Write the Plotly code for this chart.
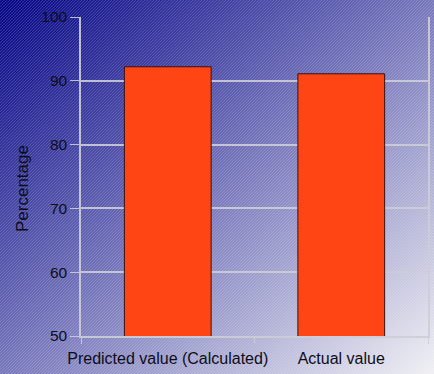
import base64, zlib, struct
import numpy as np
import plotly.graph_objects as go

categories = ["Predicted value (Calculated)", "Actual value"]
values = [92.2, 91.1]
y_ticks = [50, 60, 70, 80, 90, 100]

W, H = 434, 374
L, R, T, B = 81, 6, 17, 38
PW, PH = W - L - R, H - T - B

# background gradient with diagonal hatch
yy, xx = np.mgrid[0:H, 0:W].astype(float)
t = np.clip((xx / W + yy / H) / 2.0, 0, 1)
t = t ** 1.05
c0 = np.array([6, 6, 135], float)
c1 = np.array([240, 240, 244], float)
img = c0[None, None, :] * (1 - t[..., None]) + c1[None, None, :] * t[..., None]
hatch = ((xx.astype(int) + yy.astype(int)) % 3 == 0)
img[hatch] = img[hatch] * 0.82 + 255 * 0.18
img = np.clip(img, 0, 255).astype(np.uint8)

def png_bytes(a):
    h, w, _ = a.shape
    raw = b"".join(b"\x00" + a[i].tobytes() for i in range(h))
    def chunk(tag, data):
        c = struct.pack(">I", len(data)) + tag + data
        return c + struct.pack(">I", zlib.crc32(tag + data) & 0xffffffff)
    return (b"\x89PNG\r\n\x1a\n" + chunk(b"IHDR", struct.pack(">IIBBBBB", w, h, 8, 2, 0, 0, 0))
            + chunk(b"IDAT", zlib.compress(raw, 9)) + chunk(b"IEND", b""))

uri = "data:image/png;base64," + base64.b64encode(png_bytes(img)).decode()

line_col = "rgba(205,205,215,0.9)"

fig = go.Figure(go.Bar(
    x=categories, y=values, width=0.5,
    marker=dict(color="#ff4513", line=dict(color="#3a1010", width=1)),
))

fig.update_layout(
    width=W, height=H,
    margin=dict(l=L, r=R, t=T, b=B, autoexpand=False),
    paper_bgcolor="rgba(0,0,0,0)", plot_bgcolor="rgba(0,0,0,0)",
    font=dict(family="Liberation Sans, Arial", size=15, color="#0d0d1a"),
    showlegend=False,
    images=[dict(source=uri, xref="paper", yref="paper",
                 x=-L / PW, y=1 + T / PH, sizex=W / PW, sizey=H / PH,
                 xanchor="left", yanchor="top", sizing="stretch", layer="below")],
    annotations=[dict(text="Percentage", xref="paper", yref="paper",
                      x=(22 - L) / PW, y=(336 - 188) / PH, textangle=-90,
                      xanchor="center", yanchor="middle",
                      showarrow=False, font=dict(size=17, color="#0d0d1a"))],
)
fig.update_xaxes(showline=True, linecolor=line_col, linewidth=1.5, automargin=False,
                 ticks="outside", tickson="boundaries", ticklen=6, tickcolor=line_col,
                 showgrid=False, tickangle=0, ticklabelstandoff=7,
                 tickfont=dict(size=16))
fig.update_yaxes(range=[50, 100], tickvals=y_ticks, showline=True, mirror=True,
                 automargin=False,
                 linecolor=line_col, linewidth=1.5, gridcolor=line_col, gridwidth=1.5,
                 ticks="outside", ticklen=9, tickcolor=line_col, zeroline=False,
                 tickfont=dict(size=15.5))

fig.write_html("out.html")
